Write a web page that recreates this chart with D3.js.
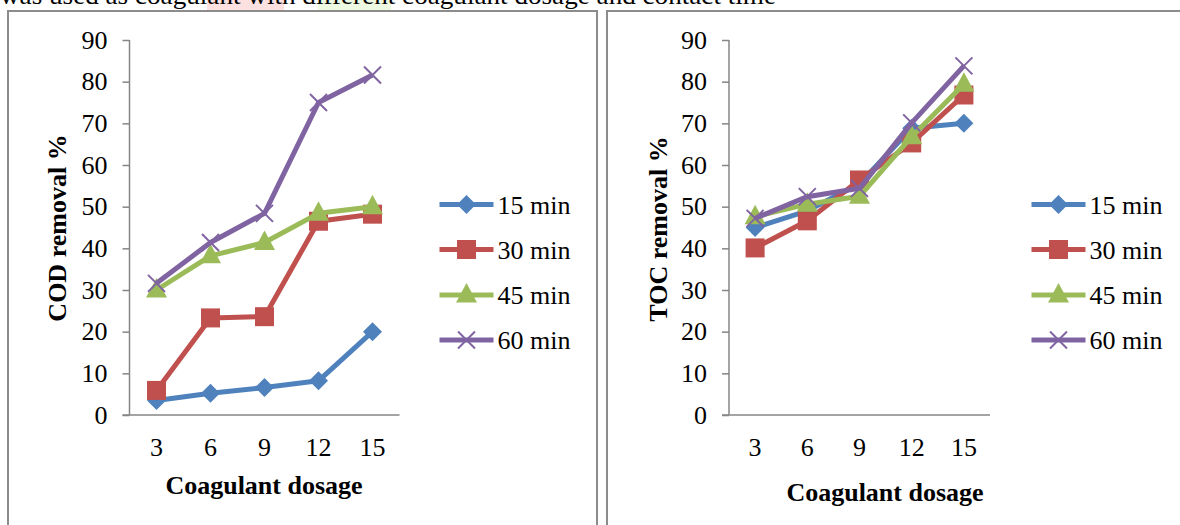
<!DOCTYPE html>
<html>
<head>
<meta charset="utf-8">
<script src="https://cdn.jsdelivr.net/npm/d3@7"></script>
<style>
  body { margin: 0; background: #fff; }
  svg, svg text { font-family: "Liberation Serif", "Times New Roman", serif; }
</style>
</head>
<body>
<div id="chart"></div>
<script>
// coagulant dosage on the x axis
const dosages = [3, 6, 9, 12, 15];
const seriesNames = ["15 min", "30 min", "45 min", "60 min"];
const yTicks = [0, 10, 20, 30, 40, 50, 60, 70, 80, 90];

// COD removal % per contact time
const cod15 = [3.5, 5.2, 6.6, 8.2, 20.0];
const cod30 = [5.9, 23.3, 23.6, 46.5, 48.2];
const cod45 = [30.0, 38.2, 41.4, 48.4, 50.0];
const cod60 = [31.6, 41.4, 48.4, 75.0, 81.6];

// TOC removal % per contact time
const toc15 = [45.0, 49.0, 55.5, 68.8, 70.0];
const toc30 = [40.1, 46.6, 56.4, 65.3, 76.8];
const toc45 = [47.6, 50.6, 52.5, 66.8, 79.4];
const toc60 = [47.2, 52.4, 54.4, 70.1, 83.8];

const colors = ["#4f81bd", "#c0504d", "#9bbb59", "#8064a2"];
const markers = ["diamond", "square", "triangle", "cross"];
const serif = '"Liberation Serif", "Times New Roman", serif';

const W = 1180, H = 525;
const svg = d3.select("#chart").append("svg")
    .attr("width", W)
    .attr("height", H);

// caption line cut off above the figure
svg.append("rect").attr("x", 207).attr("y", 0).attr("width", 77).attr("height", 11).attr("fill", "#fde1e1");
svg.append("rect").attr("x", 318).attr("y", 0).attr("width", 73).attr("height", 11).attr("fill", "#eef9e2");
svg.append("text")
    .attr("x", 0).attr("y", 4)
    .style("font-family", serif)
    .attr("font-size", 26)
    .attr("textLength", 776)
    .attr("lengthAdjust", "spacingAndGlyphs")
    .text("was used as coagulant with different coagulant dosage and contact time");

function drawMarker(g, type, cx, cy, color) {
  if (type === "diamond") {
    g.append("path")
      .attr("d", `M${cx},${cy - 9.5}L${cx + 9.5},${cy}L${cx},${cy + 9.5}L${cx - 9.5},${cy}Z`)
      .attr("fill", color);
  } else if (type === "square") {
    g.append("rect")
      .attr("x", cx - 9.5).attr("y", cy - 9.5)
      .attr("width", 19).attr("height", 19)
      .attr("fill", color);
  } else if (type === "triangle") {
    g.append("path")
      .attr("d", `M${cx},${cy - 12}L${cx + 10.5},${cy + 7.5}L${cx - 10.5},${cy + 7.5}Z`)
      .attr("fill", color);
  } else {
    g.append("path")
      .attr("d", `M${cx - 8.5},${cy - 8.5}L${cx + 8.5},${cy + 8.5}M${cx + 8.5},${cy - 8.5}L${cx - 8.5},${cy + 8.5}`)
      .attr("stroke", color)
      .attr("stroke-width", 2);
  }
}

function drawPanel(p) {
  // frame around the panel
  svg.append("rect")
    .attr("x", p.frameX).attr("y", 11)
    .attr("width", p.frameW).attr("height", 560)
    .attr("fill", "none")
    .attr("stroke", "#8c8c8c")
    .attr("stroke-width", 2);

  const x = d3.scaleBand().domain(dosages).range([p.x0, p.x1]);
  const y = d3.scaleLinear().domain([0, 90]).range([415, 40]);
  const cx = d => x(d) + x.bandwidth() / 2;

  const g = svg.append("g");

  // y axis
  const yAxis = g.append("g")
    .attr("transform", `translate(${p.x0},0)`)
    .call(d3.axisLeft(y).tickValues(yTicks).tickSize(7).tickSizeOuter(0).tickPadding(15));
  yAxis.attr("font-family", null).attr("font-size", null);
  yAxis.select(".domain").remove();
  yAxis.selectAll(".tick line").attr("stroke", "#868686").attr("stroke-width", 1.5);
  yAxis.selectAll(".tick text")
    .style("font-family", serif)
    .style("font-size", "26px")
    .attr("fill", "#000");
  g.append("line")
    .attr("x1", p.x0).attr("x2", p.x0)
    .attr("y1", y(90)).attr("y2", y(0))
    .attr("stroke", "#868686").attr("stroke-width", 1.5);

  // x axis
  const xAxis = g.append("g")
    .attr("transform", `translate(0,${y(0)})`)
    .call(d3.axisBottom(x).tickSize(0).tickPadding(23));
  xAxis.attr("font-family", null).attr("font-size", null);
  xAxis.select(".domain").remove();
  xAxis.selectAll(".tick text")
    .style("font-family", serif)
    .style("font-size", "26px")
    .attr("fill", "#000");
  g.append("line")
    .attr("x1", p.x0 - 7).attr("x2", p.x1)
    .attr("y1", y(0)).attr("y2", y(0))
    .attr("stroke", "#868686").attr("stroke-width", 1.5);

  // axis titles
  g.append("text")
    .attr("transform", `translate(${p.yLabelX},${p.yLabelY}) rotate(-90)`)
    .attr("text-anchor", "middle")
    .style("font-family", serif)
    .attr("font-size", 26)
    .attr("font-weight", "bold")
    .text(p.yTitle);
  g.append("text")
    .attr("x", p.xTitleX).attr("y", p.xTitleY)
    .attr("text-anchor", "middle")
    .style("font-family", serif)
    .attr("font-size", 26)
    .attr("font-weight", "bold")
    .text("Coagulant dosage");

  // series lines then markers
  const line = d3.line().x((d, i) => cx(dosages[i])).y(d => y(d));
  p.series.forEach((vals, s) => {
    g.append("path")
      .datum(vals)
      .attr("d", line)
      .attr("fill", "none")
      .attr("stroke", colors[s])
      .attr("stroke-width", 5)
      .attr("stroke-linejoin", "round");
    vals.forEach((v, i) => drawMarker(g, markers[s], cx(dosages[i]), y(v), colors[s]));
  });

  // legend
  const legendRows = [204.5, 249.5, 295, 340];
  seriesNames.forEach((name, s) => {
    const ly = legendRows[s];
    g.append("line")
      .attr("x1", p.legX).attr("x2", p.legX + 54)
      .attr("y1", ly).attr("y2", ly)
      .attr("stroke", colors[s])
      .attr("stroke-width", 5);
    drawMarker(g, markers[s], p.legX + 27, ly, colors[s]);
    g.append("text")
      .attr("x", p.legX + 58).attr("y", ly + 9)
      .style("font-family", serif)
      .attr("font-size", 26)
      .text(name);
  });
}

drawPanel({
  frameX: 8, frameW: 589,
  x0: 129.5, x1: 399.5,
  yTitle: "COD removal %", yLabelX: 66, yLabelY: 228,
  xTitleX: 264, xTitleY: 494,
  legX: 439.5,
  series: [cod15, cod30, cod45, cod60]
});

drawPanel({
  frameX: 607, frameW: 600,
  x0: 729, x1: 990,
  yTitle: "TOC removal %", yLabelX: 667, yLabelY: 229,
  xTitleX: 885, xTitleY: 501,
  legX: 1031.5,
  series: [toc15, toc30, toc45, toc60]
});
</script>
</body>
</html>
